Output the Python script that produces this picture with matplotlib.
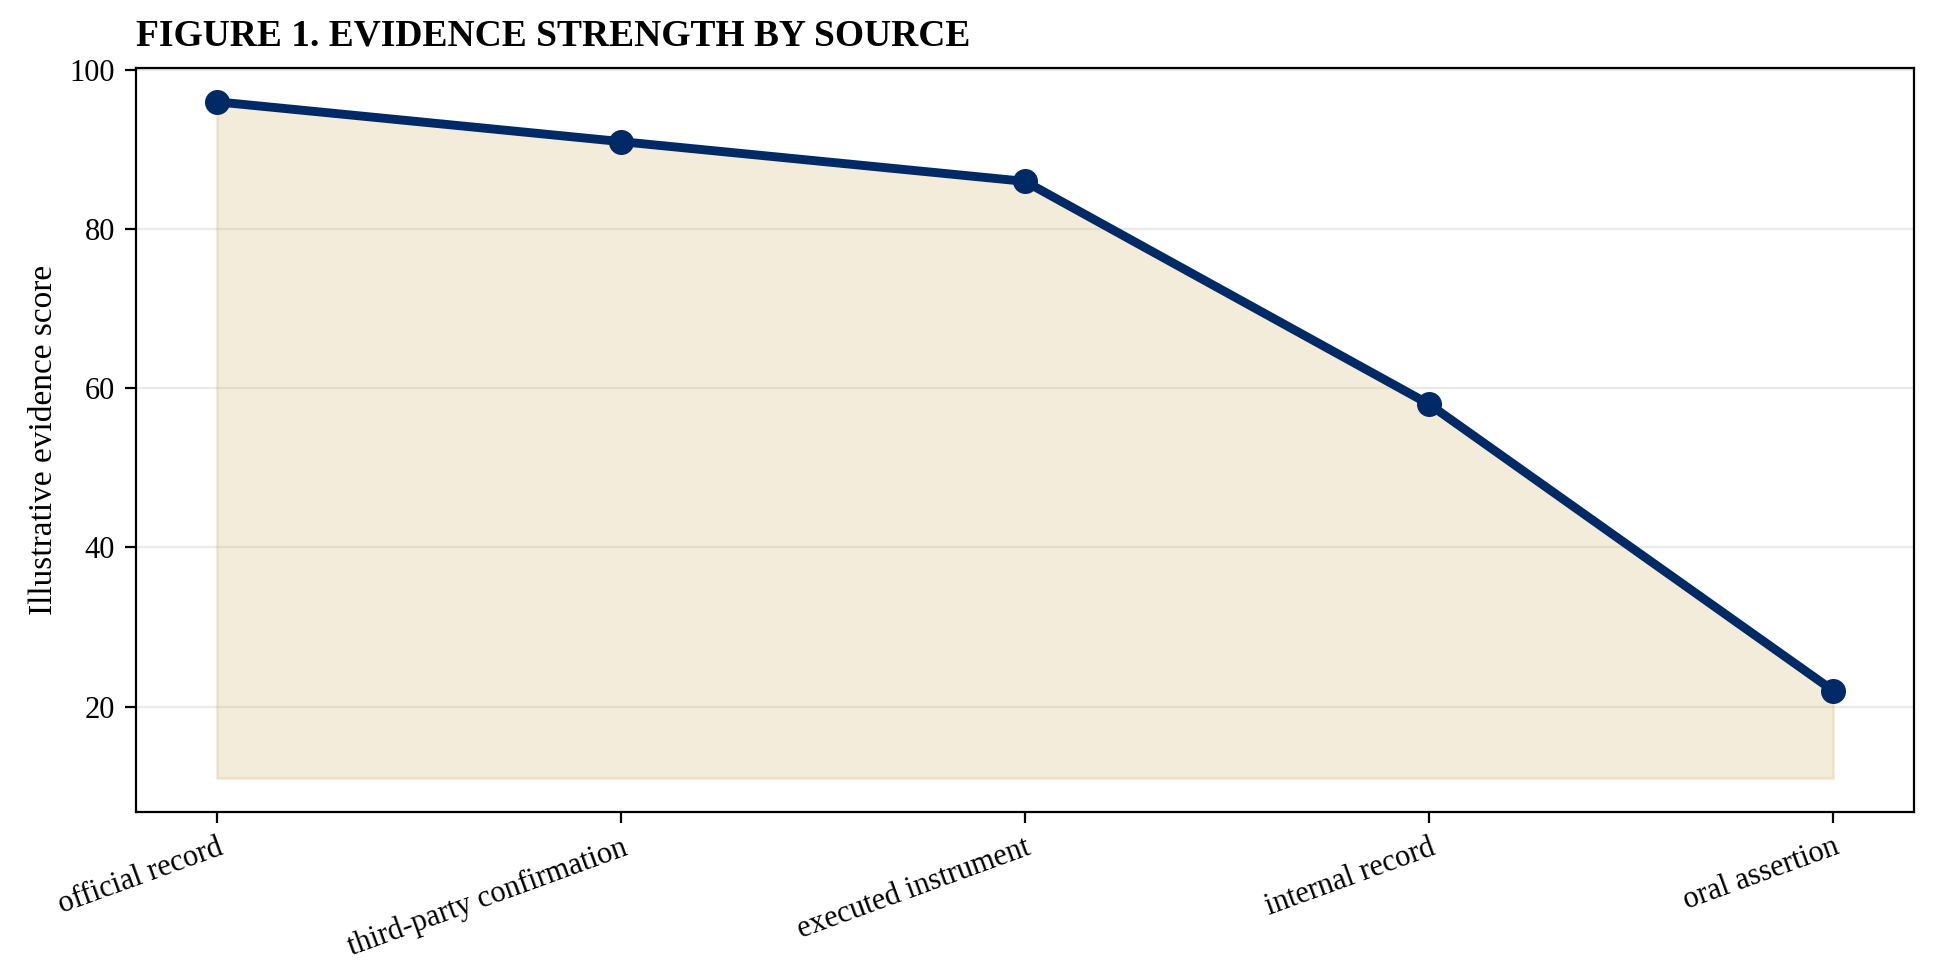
import numpy as np
import matplotlib
matplotlib.use("Agg")
import matplotlib.pyplot as plt

# donnees
sources = ['official record', 'third-party confirmation', 'executed instrument',
           'internal record', 'oral assertion']
scores = [96, 91, 86, 58, 22]
base = 11

plt.rcParams['font.family'] = ['Liberation Serif', 'DejaVu Serif']

fig = plt.figure(figsize=(9.685, 4.87), dpi=200)
ax = fig.add_axes([136/1937, 1 - 812/974, (1914-136)/1937, (812-68)/974])

x = np.arange(len(sources))
ax.fill_between(x, scores, base, color='#cbab5c', alpha=0.22, linewidth=1, zorder=1)
ax.plot(x, scores, color='#002a66', linewidth=3.2, marker='o', markersize=8, zorder=3)

ax.yaxis.grid(True, color='#dddddd', linewidth=0.8, alpha=0.6, zorder=0)
ax.set_axisbelow(True)

ax.set_xticks(x)
ax.set_xticklabels(sources, rotation=20, ha='right', rotation_mode='anchor', fontsize=11)
ax.set_yticks([20, 40, 60, 80, 100])
ax.tick_params(axis='y', labelsize=11, length=4)
ax.tick_params(axis='x', length=4)
ax.set_ylabel('Illustrative evidence score', fontsize=12)
ax.set_title('FIGURE 1. EVIDENCE STRENGTH BY SOURCE', loc='left', fontsize=13.5,
             fontweight='bold', pad=8)

fig.savefig('out.png', dpi=200)
